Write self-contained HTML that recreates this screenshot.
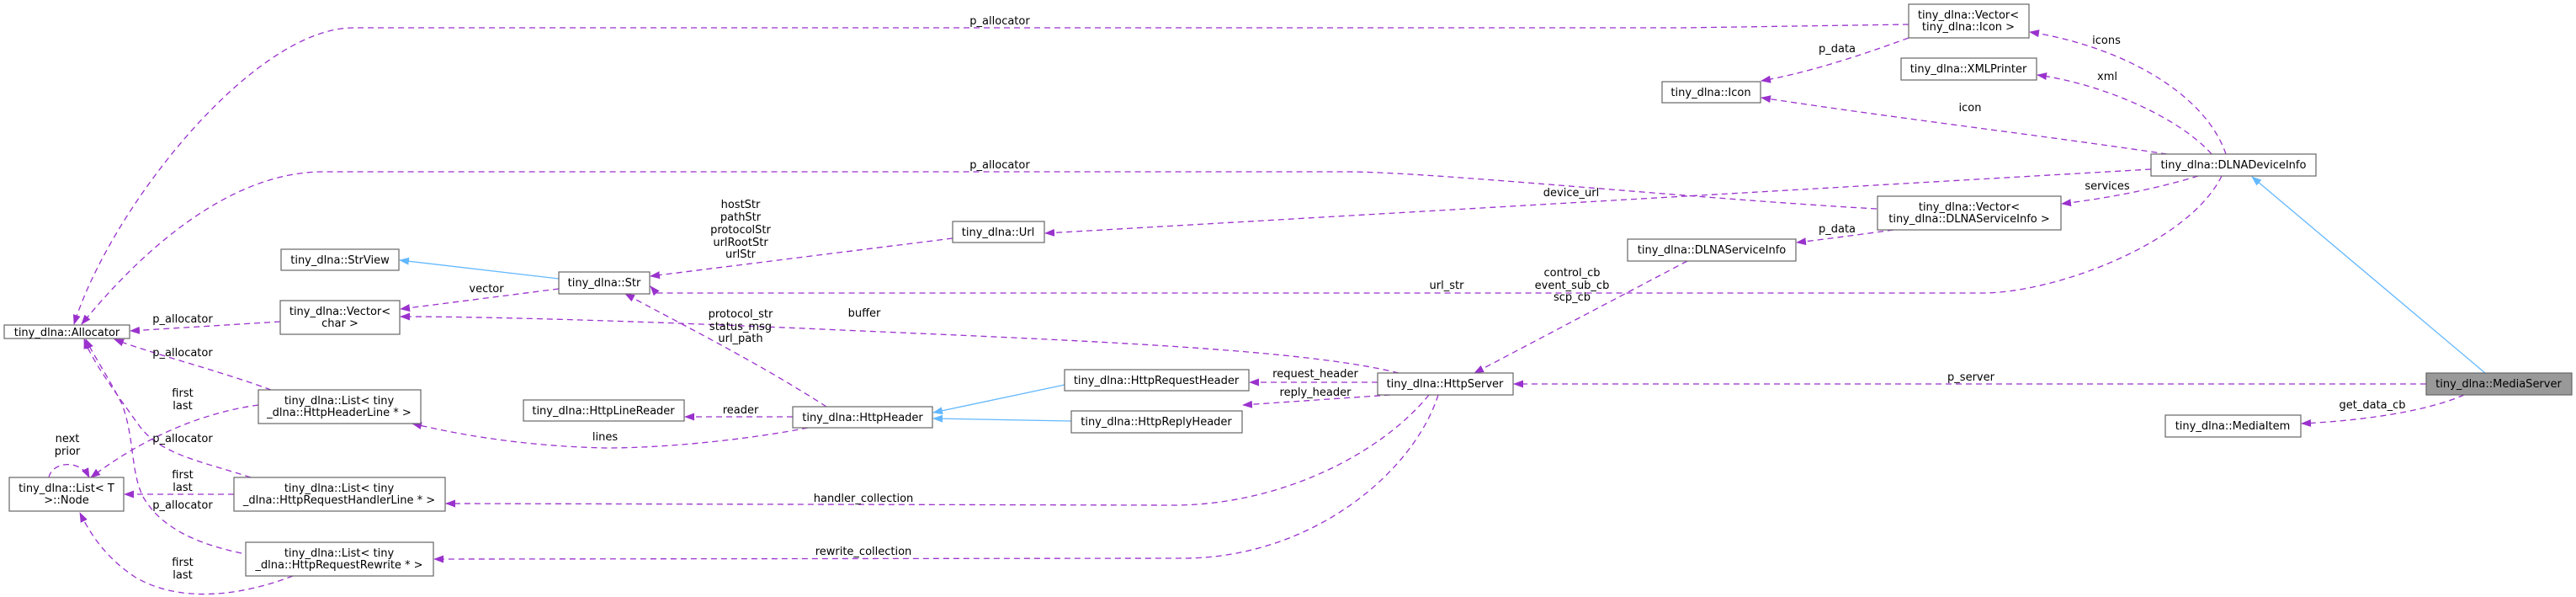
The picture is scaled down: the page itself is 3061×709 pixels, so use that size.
<!DOCTYPE html>
<html><head><meta charset="utf-8"><style>
html,body{margin:0;padding:0;background:#fff;}
svg{display:block;}
text{font-family:"DejaVu Sans","Liberation Sans",sans-serif;font-size:13px;fill:#000;}
.b{fill:#fff;stroke:#666;stroke-width:1.2;}
.d{fill:none;stroke:#9a32cd;stroke-width:1.3;stroke-dasharray:7,5;}
.i{fill:none;stroke:#63b8ff;stroke-width:1.3;}
</style></head><body>
<svg width="3061" height="709" viewBox="0 0 3061 709" xmlns="http://www.w3.org/2000/svg">
<defs>
<marker id="p" markerWidth="12" markerHeight="9" refX="11" refY="4.5" orient="auto" markerUnits="userSpaceOnUse"><path d="M0,0 L12,4.5 L0,9 z" fill="#9a32cd"/></marker>
<marker id="q" markerWidth="12" markerHeight="9" refX="11" refY="4.5" orient="auto" markerUnits="userSpaceOnUse"><path d="M0,0 L12,4.5 L0,9 z" fill="#63b8ff"/></marker>
</defs>

<!-- edges -->
<path class="d" marker-end="url(#p)" d="M2268,29 L2000,33 L420,33 C300,33 130,250 88,385"/>
<path class="d" marker-end="url(#p)" d="M2230,248 C2000,235 1700,204 1600,204 L384,204 C260,204 150,320 97,385"/>
<path class="d" marker-end="url(#p)" d="M333,382 L155,393"/>
<path class="d" marker-end="url(#p)" d="M322,463 C260,440 180,420 136,403"/>
<path class="d" marker-end="url(#p)" d="M298,567 C240,548 190,540 165,505 C140,470 110,430 100,403"/>
<path class="d" marker-end="url(#p)" d="M287,657 C230,645 190,625 170,590 C155,560 160,520 145,480 C130,450 110,420 102,403"/>
<path class="d" marker-end="url(#p)" d="M307,481 C240,490 170,520 108,567"/>
<path class="d" marker-end="url(#p)" d="M278,587 L148,587"/>
<path class="d" marker-end="url(#p)" d="M348,684 C280,710 210,715 160,685 C130,665 110,640 95,609"/>
<path class="d" marker-end="url(#p)" d="M58,567 C62,548 95,545 106,567"/>
<path class="i" marker-end="url(#q)" d="M664,331 L475,309"/>
<path class="d" marker-end="url(#p)" d="M664,343 L476,367"/>
<path class="d" marker-end="url(#p)" d="M1662,443 C1550,415 1300,405 1000,392 C800,383 600,376 476,376"/>
<path class="d" marker-end="url(#p)" d="M1132,283 L773,328"/>
<path class="d" marker-end="url(#p)" d="M2640,209 C2600,290 2440,348 2356,348 L780,348 L773,340"/>
<path class="d" marker-end="url(#p)" d="M2556,201 L1242,277"/>
<path class="d" marker-end="url(#p)" d="M982,483 C900,430 800,380 743,349"/>
<path class="d" marker-end="url(#p)" d="M942,495 L814,495"/>
<path class="d" marker-end="url(#p)" d="M960,508 C900,520 800,532 720,532 C620,530 540,515 490,503"/>
<path class="i" marker-end="url(#q)" d="M1265,457 L1109,490"/>
<path class="i" marker-end="url(#q)" d="M1273,500 L1109,497"/>
<path class="d" marker-end="url(#p)" d="M1637,454 L1485,454"/>
<path class="d" marker-end="url(#p)" d="M1652,469 L1477,481"/>
<path class="d" marker-end="url(#p)" d="M1698,469 C1640,540 1520,600 1394,600 L530,598"/>
<path class="d" marker-end="url(#p)" d="M1709,469 C1680,560 1560,663 1405,663 L516,664"/>
<path class="d" marker-end="url(#p)" d="M2005,310 L1752,443"/>
<path class="d" marker-end="url(#p)" d="M2883,456 L1799,456"/>
<path class="i" marker-end="url(#q)" d="M2953,443 L2676,210"/>
<path class="d" marker-end="url(#p)" d="M2928,469 C2880,490 2800,500 2735,503"/>
<path class="d" marker-end="url(#p)" d="M2645,183 C2620,110 2520,55 2412,38"/>
<path class="d" marker-end="url(#p)" d="M2628,183 C2590,140 2500,100 2421,89"/>
<path class="d" marker-end="url(#p)" d="M2575,183 C2420,160 2250,140 2093,116"/>
<path class="d" marker-end="url(#p)" d="M2612,209 C2560,225 2500,236 2450,242"/>
<path class="d" marker-end="url(#p)" d="M2250,273 C2200,280 2160,285 2135,288"/>
<path class="d" marker-end="url(#p)" d="M2268,45 C2200,70 2140,88 2093,96"/>

<!-- edge labels -->
<g text-anchor="middle">
<text x="1188" y="29">p_allocator</text>
<text x="1188" y="200">p_allocator</text>
<text x="217" y="383">p_allocator</text>
<text x="217" y="423">p_allocator</text>
<text x="217" y="471">first</text><text x="217" y="486">last</text>
<text x="80" y="525">next</text><text x="80" y="540">prior</text>
<text x="217" y="525">p_allocator</text>
<text x="217" y="568">first</text><text x="217" y="583">last</text>
<text x="217" y="604">p_allocator</text>
<text x="217" y="672">first</text><text x="217" y="687">last</text>
<text x="578" y="347">vector</text>
<text x="880" y="247">hostStr</text><text x="880" y="262">pathStr</text><text x="880" y="277">protocolStr</text><text x="880" y="292">urlRootStr</text><text x="880" y="306">urlStr</text>
<text x="880" y="377">protocol_str</text><text x="880" y="392">status_msg</text><text x="880" y="406">url_path</text>
<text x="1027" y="376">buffer</text>
<text x="880" y="491">reader</text>
<text x="719" y="523">lines</text>
<text x="1867" y="233">device_url</text>
<text x="1719" y="343">url_str</text>
<text x="1868" y="328">control_cb</text><text x="1868" y="343">event_sub_cb</text><text x="1868" y="357">scp_cb</text>
<text x="1563" y="448">request_header</text>
<text x="1563" y="470">reply_header</text>
<text x="1026" y="596">handler_collection</text>
<text x="1026" y="659">rewrite_collection</text>
<text x="2342" y="452">p_server</text>
<text x="2819" y="485">get_data_cb</text>
<text x="2503" y="52">icons</text>
<text x="2504" y="95">xml</text>
<text x="2341" y="132">icon</text>
<text x="2183" y="62">p_data</text>
<text x="2504" y="225">services</text>
<text x="2183" y="276">p_data</text>
</g>

<!-- nodes -->
<g text-anchor="middle">
<rect class="b" x="5" y="386" width="149" height="16"/><text x="79.5" y="399">tiny_dlna::Allocator</text>
<rect class="b" x="11" y="567" width="136" height="40"/><text x="79" y="584">tiny_dlna::List&lt; T</text><text x="79" y="598">&gt;::Node</text>
<rect class="b" x="334" y="296" width="140" height="25"/><text x="404" y="313">tiny_dlna::StrView</text>
<rect class="b" x="333" y="357" width="142" height="40"/><text x="404" y="374">tiny_dlna::Vector&lt;</text><text x="404" y="388">char &gt;</text>
<rect class="b" x="307" y="463" width="193" height="40"/><text x="403" y="480">tiny_dlna::List&lt; tiny</text><text x="403" y="494">_dlna::HttpHeaderLine * &gt;</text>
<rect class="b" x="278" y="567" width="251" height="40"/><text x="403" y="584">tiny_dlna::List&lt; tiny</text><text x="403" y="598">_dlna::HttpRequestHandlerLine * &gt;</text>
<rect class="b" x="292" y="644" width="223" height="40"/><text x="403" y="661">tiny_dlna::List&lt; tiny</text><text x="403" y="675">_dlna::HttpRequestRewrite * &gt;</text>
<rect class="b" x="664" y="323" width="108" height="26"/><text x="718" y="340">tiny_dlna::Str</text>
<rect class="b" x="1132" y="263" width="109" height="25"/><text x="1186" y="280">tiny_dlna::Url</text>
<rect class="b" x="622" y="475" width="191" height="25"/><text x="717" y="492">tiny_dlna::HttpLineReader</text>
<rect class="b" x="942" y="483" width="166" height="25"/><text x="1025" y="500">tiny_dlna::HttpHeader</text>
<rect class="b" x="1265" y="439" width="219" height="25"/><text x="1374" y="456">tiny_dlna::HttpRequestHeader</text>
<rect class="b" x="1273" y="488" width="203" height="26"/><text x="1374" y="505">tiny_dlna::HttpReplyHeader</text>
<rect class="b" x="1637" y="443" width="161" height="26"/><text x="1717" y="460">tiny_dlna::HttpServer</text>
<rect class="b" x="1934" y="284" width="200" height="26"/><text x="2034" y="301">tiny_dlna::DLNAServiceInfo</text>
<rect class="b" x="1975" y="97" width="117" height="25"/><text x="2033" y="114">tiny_dlna::Icon</text>
<rect class="b" x="2268" y="5" width="143" height="40"/><text x="2339" y="22">tiny_dlna::Vector&lt;</text><text x="2339" y="36">tiny_dlna::Icon &gt;</text>
<rect class="b" x="2259" y="69" width="161" height="26"/><text x="2339" y="86">tiny_dlna::XMLPrinter</text>
<rect class="b" x="2231" y="233" width="218" height="40"/><text x="2340" y="250">tiny_dlna::Vector&lt;</text><text x="2340" y="264">tiny_dlna::DLNAServiceInfo &gt;</text>
<rect class="b" x="2556" y="183" width="196" height="26"/><text x="2654" y="200">tiny_dlna::DLNADeviceInfo</text>
<rect class="b" x="2573" y="493" width="161" height="26"/><text x="2653" y="510">tiny_dlna::MediaItem</text>
<rect x="2883" y="443" width="173" height="26" fill="#999" stroke="#666" stroke-width="1.2"/><text x="2969" y="460">tiny_dlna::MediaServer</text>
</g>
</svg>
</body></html>
